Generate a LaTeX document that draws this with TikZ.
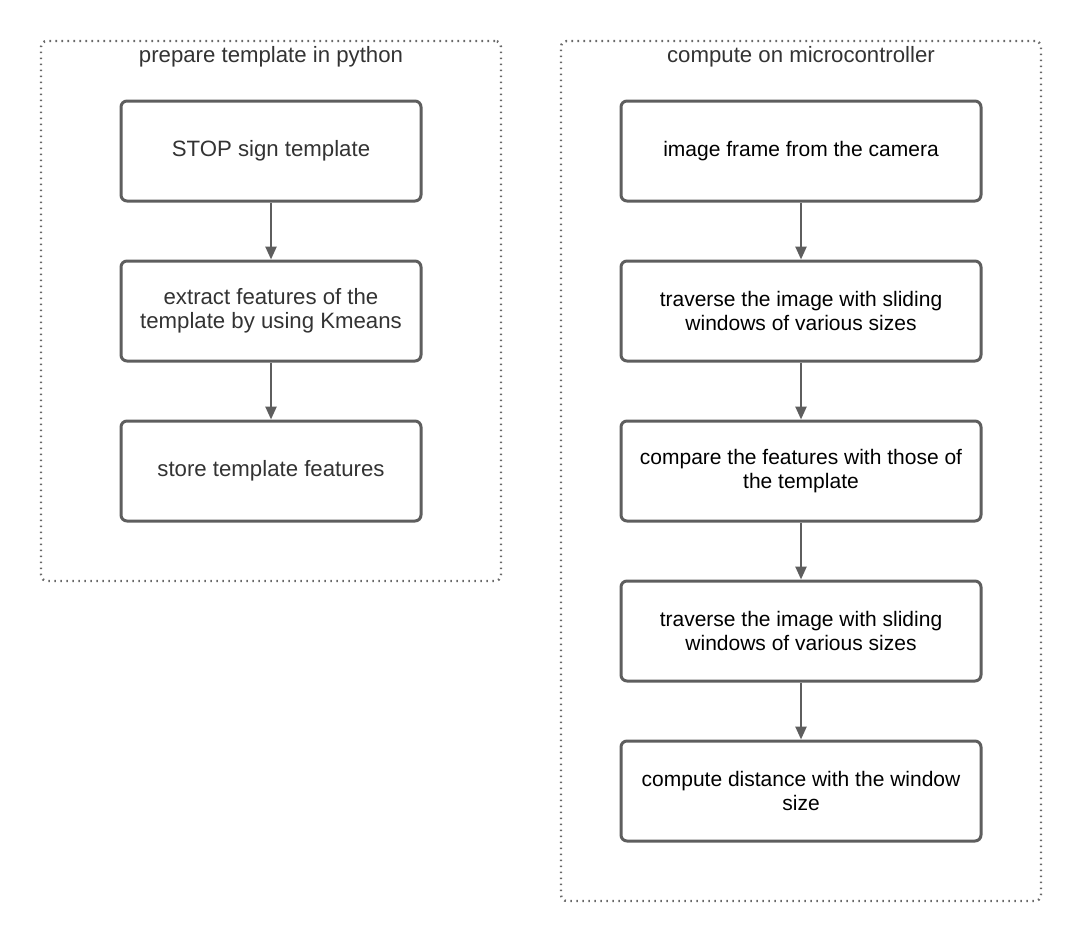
\documentclass[tikz,border=0pt]{standalone}
\usepackage{fontspec}
\setmainfont{Liberation Sans}
\usetikzlibrary{arrows.meta,positioning}
\definecolor{edgegray}{RGB}{94,94,94}
\definecolor{dotgray}{RGB}{105,105,105}
\definecolor{textgray}{RGB}{51,51,51}

\begin{document}
\begin{tikzpicture}[x=1pt,y=-1pt,node distance=57pt,
    every node/.style={font=\fontsize{21}{24}\selectfont},
    bigtext/.style={font=\fontsize{22.2}{24}\selectfont,text=textgray},
    lane/.style={draw=dotgray,line width=2.4pt,dash pattern=on 1.6pt off 4.4pt,rounded corners=6pt,minimum width=#1,inner sep=0pt},
    stepbox/.style={draw=edgegray,line width=3pt,rounded corners=6pt,fill=white,minimum height=100pt,align=center,inner sep=0pt},
    flow/.style={-{Triangle[length=13pt,width=11pt]},draw=edgegray,line width=2.5pt}]
  \useasboundingbox (0,0) rectangle (1083,943);
  % the two lanes
  \node[lane=460pt,minimum height=540pt] (pylane) at (271,311) {};
  \node[lane=480pt,minimum height=860pt] (mculane) at (801,471) {};
  \node[bigtext] (pytitle) at (271,57) {prepare template in python};
  \node[bigtext] (mcutitle) at (801,57) {compute on microcontroller};
  % left column
  \node[stepbox,minimum width=300pt,bigtext] (stop) at (271,151) {STOP sign template};
  \node[stepbox,minimum width=300pt,bigtext,below=of stop] (extract) {extract features of the\\template by using Kmeans};
  \node[stepbox,minimum width=300pt,bigtext,below=of extract] (store) {store template features};
  \draw[flow] (stop) -- (extract);
  \draw[flow] (extract) -- (store);
  % right column
  \node[stepbox,minimum width=360pt] (frame) at (801,151) {image frame from the camera};
  \node[stepbox,minimum width=360pt,below=of frame] (slide) {traverse the image with sliding\\windows of various sizes};
  \node[stepbox,minimum width=360pt,below=of slide] (compare) {compare the features with those of\\the template};
  \node[stepbox,minimum width=360pt,below=of compare] (slideb) {traverse the image with sliding\\windows of various sizes};
  \node[stepbox,minimum width=360pt,below=of slideb] (dist) {compute distance with the window\\size};
  \draw[flow] (frame) -- (slide);
  \draw[flow] (slide) -- (compare);
  \draw[flow] (compare) -- (slideb);
  \draw[flow] (slideb) -- (dist);
\end{tikzpicture}
\end{document}
